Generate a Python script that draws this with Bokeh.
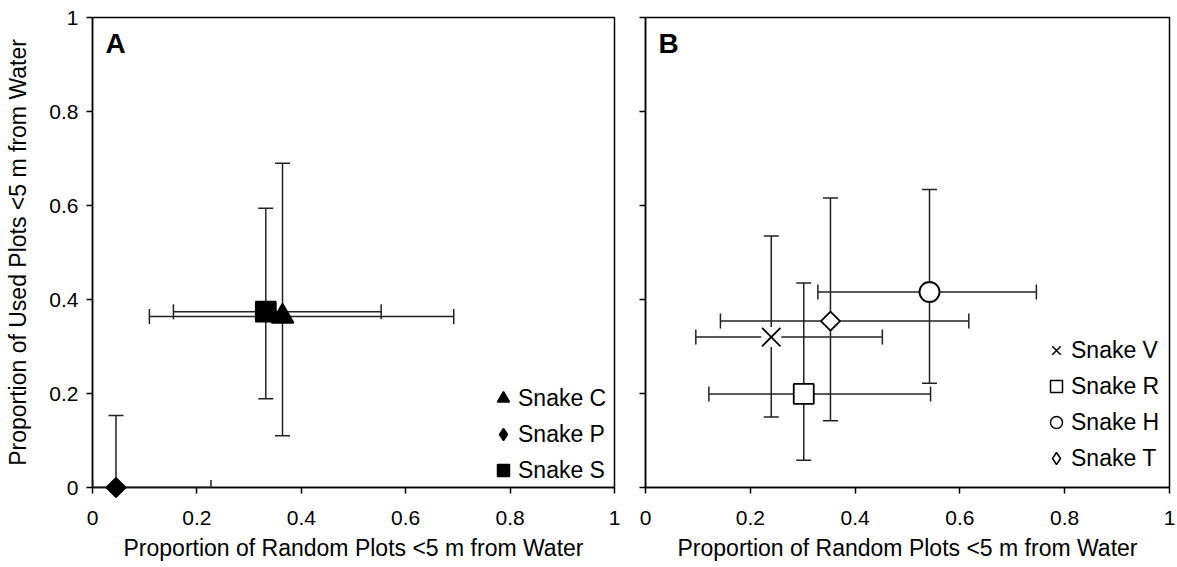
import numpy as np
from bokeh.plotting import figure
from bokeh.layouts import row
from bokeh.models import (ColumnDataSource, Whisker, TeeHead, FixedTicker, Legend,
                          LegendItem, Label, CustomJSTickFormatter, Range1d)
from bokeh.embed import file_html
from bokeh.resources import INLINE

# ---------------- data ----------------
tick_values = [0, 0.2, 0.4, 0.6, 0.8, 1]
tick_labels = ["0", "0.2", "0.4", "0.6", "0.8", "1"]

x_title = "Proportion of Random Plots <5 m from Water"
y_title = "Proportion of Used Plots <5 m from Water"

# Panel A
a_names = ["Snake C", "Snake P", "Snake S"]
a_x = [0.364, 0.045, 0.332]
a_y = [0.364, 0.0, 0.374]
a_x_lo = [0.109, 0.0, 0.155]
a_x_hi = [0.692, 0.227, 0.553]
a_y_lo = [0.110, 0.0, 0.189]
a_y_hi = [0.690, 0.153, 0.594]

# Panel B
b_names = ["Snake V", "Snake R", "Snake H", "Snake T"]
b_x = [0.240, 0.302, 0.542, 0.353]
b_y = [0.320, 0.199, 0.416, 0.354]
b_x_lo = [0.096, 0.121, 0.329, 0.143]
b_x_hi = [0.452, 0.544, 0.746, 0.617]
b_y_lo = [0.150, 0.058, 0.222, 0.142]
b_y_hi = [0.535, 0.435, 0.634, 0.616]

FONT = "Liberation Sans"
INK = "#000000"
BAR = "#222222"

# marker styles: (plot marker, size, angle, fill, legend marker)
a_styles = [
    dict(marker="triangle", size=22, angle=0.0, fill=INK, leg="triangle"),
    dict(marker="square", size=13.5, angle=np.pi / 4, fill=INK, leg="diamond"),
    dict(marker="square", size=20, angle=0.0, fill=INK, leg="square"),
]
b_styles = [
    dict(marker="x", size=26, angle=0.0, fill="white", leg="x"),
    dict(marker="square", size=20, angle=0.0, fill="white", leg="square"),
    dict(marker="circle", size=20, angle=0.0, fill="white", leg="circle"),
    dict(marker="square", size=13.5, angle=np.pi / 4, fill="white", leg="diamond"),
]


def make_panel(names, xs, ys, xlo, xhi, ylo, yhi, styles, letter, width,
               border_left, border_right, show_ylabels, legend_loc):
    p = figure(width=width, height=567, x_range=Range1d(0, 1), y_range=Range1d(0, 1),
               output_backend="svg", toolbar_location=None,
               min_border_left=border_left, min_border_right=border_right,
               min_border_top=17, min_border_bottom=80)
    p.xgrid.visible = False
    p.ygrid.visible = False
    p.outline_line_color = INK
    p.outline_line_width = 1.5
    p.background_fill_color = "white"
    p.border_fill_color = "white"

    overrides = {v: l for v, l in zip(tick_values, tick_labels)}
    for ax in (p.xaxis[0], p.yaxis[0]):
        ax.ticker = FixedTicker(ticks=tick_values)
        ax.minor_tick_line_color = None
        ax.major_tick_in = 0
        ax.major_tick_out = 6
        ax.major_tick_line_width = 1.5
        ax.major_tick_line_color = INK
        ax.axis_line_width = 1.5
        ax.axis_line_color = INK
        ax.major_label_text_font = FONT
        ax.major_label_text_font_size = "21px"
        ax.major_label_text_color = INK
        ax.axis_label_text_font = FONT
        ax.axis_label_text_font_size = "23px"
        ax.axis_label_text_font_style = "normal"
        ax.axis_label_text_color = INK

    p.xaxis.major_label_overrides = overrides
    p.xaxis.axis_label = x_title
    p.xaxis.major_label_standoff = 17
    p.xaxis.axis_label_standoff = 7
    if show_ylabels:
        p.yaxis.major_label_overrides = overrides
        p.yaxis.axis_label = y_title
        p.yaxis.major_label_standoff = 8
        p.yaxis.axis_label_standoff = 15
    else:
        p.yaxis.formatter = CustomJSTickFormatter(code="return ''")
        p.yaxis.major_label_standoff = 0

    src = ColumnDataSource(dict(x=xs, y=ys, xlo=xlo, xhi=xhi, ylo=ylo, yhi=yhi))
    for dim, base, lo, hi in (("height", "x", "ylo", "yhi"), ("width", "y", "xlo", "xhi")):
        w = Whisker(base=base, lower=lo, upper=hi, dimension=dim, source=src,
                    line_color=BAR, line_width=1.5, level="annotation",
                    upper_head=TeeHead(size=15, line_color=BAR, line_width=1.5),
                    lower_head=TeeHead(size=15, line_color=BAR, line_width=1.5))
        p.add_layout(w)

    items = []
    for i, (name, st) in enumerate(zip(names, styles)):
        if st["marker"] == "x":
            p.scatter(x=[xs[i]], y=[ys[i]], marker="square", size=20,
                      fill_color="white", line_alpha=0, level="overlay")
        p.scatter(x=[xs[i]], y=[ys[i]], marker=st["marker"], size=st["size"],
                  angle=st["angle"], fill_color=st["fill"], line_color=INK,
                  line_width=1.8, level="overlay")
        dummy = p.scatter(x=[np.nan], y=[np.nan], marker=st["leg"], size=12,
                          fill_color=st["fill"], line_color=INK, line_width=1.5)
        items.append(LegendItem(label=name, renderers=[dummy]))

    leg = Legend(items=items, location=legend_loc, orientation="vertical",
                 glyph_width=30, glyph_height=30, label_height=30,
                 label_standoff=-3, spacing=6, padding=0, margin=0,
                 border_line_alpha=0, background_fill_alpha=0,
                 label_text_font=FONT, label_text_font_size="23px",
                 label_text_color=INK)
    p.add_layout(leg)

    p.add_layout(Label(x=0.025, y=0.977, text=letter, text_font=FONT,
                       text_font_size="28px", text_font_style="bold",
                       text_color=INK, text_baseline="top"))
    return p


pA = make_panel(a_names, a_x, a_y, a_x_lo, a_x_hi, a_y_lo, a_y_hi, a_styles, "A",
                width=629, border_left=92, border_right=15, show_ylabels=True,
                legend_loc=(396, 2))
pB = make_panel(b_names, b_x, b_y, b_x_lo, b_x_hi, b_y_lo, b_y_hi, b_styles, "B",
                width=548, border_left=16, border_right=8, show_ylabels=False,
                legend_loc=(396, 14))

layout = row(pA, pB)
open("out.html", "w").write(file_html(layout, INLINE))
